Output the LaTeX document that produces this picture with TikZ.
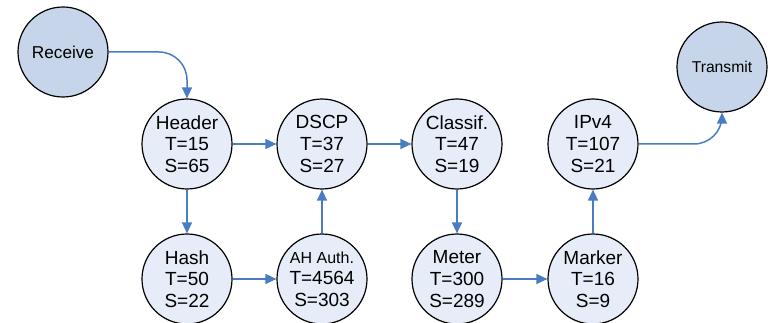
\documentclass[tikz,border=0pt]{standalone}
\usepackage{fontspec}
\setmainfont{Liberation Sans}
\usetikzlibrary{arrows.meta}
\definecolor{endfill}{HTML}{C6D5EA}
\definecolor{stagefill}{HTML}{E6EDF8}
\definecolor{flow}{HTML}{4A7CC4}
\begin{document}
\begin{tikzpicture}[x=1pt,y=-1pt,
  stage/.style={circle, draw=black, line width=1.2pt, fill=stagefill,
    minimum size=90pt, inner sep=0pt, align=center,
    font=\fontsize{19}{21.7}\selectfont},
  endpt/.style={stage, fill=endfill, font=\fontsize{17.2}{20}\selectfont},
  flowarrow/.style={draw=flow, line width=1.5pt,
    -{Triangle[length=11pt,width=10pt]}}]
\useasboundingbox (0,0) rectangle (768,323);

% terminals
\node[endpt] (rec) at (63,52) {Receive};
\node[endpt, font=\fontsize{15.7}{18}\selectfont] (trans) at (722,67) {Transmit};

% processing stages, top row
\node[stage] (hdr) at (187,144) {Header\\T=15\\S=65};
\node[stage] (dscp) at (322,144) {DSCP\\T=37\\S=27};
\node[stage] (cls) at (457,144) {Classif.\\T=47\\S=19};
\node[stage] (ipv4) at (593,144) {IPv4\\T=107\\S=21};

% processing stages, bottom row
\node[stage] (hash) at (187,279) {Hash\\T=50\\S=22};
\node[stage] (ah) at (322,279) {{\fontsize{16}{19}\selectfont AH Auth.}\\T=4564\\S=303};
\node[stage] (met) at (457,279) {Meter\\T=300\\S=289};
\node[stage] (mrk) at (593,279) {Marker\\T=16\\S=9};

% packet flow
\draw[flowarrow, rounded corners=28pt] (rec.east) -| (hdr.north);
\draw[flowarrow] (hdr.east) -- (dscp.west);
\draw[flowarrow] (hdr.south) -- (hash.north);
\draw[flowarrow] (hash.east) -- (ah.west);
\draw[flowarrow] (ah.north) -- (dscp.south);
\draw[flowarrow] (dscp.east) -- (cls.west);
\draw[flowarrow] (cls.south) -- (met.north);
\draw[flowarrow] (met.east) -- (mrk.west);
\draw[flowarrow] (mrk.north) -- (ipv4.south);
\draw[flowarrow, rounded corners=28pt] (ipv4.east) -| (trans.south);
\end{tikzpicture}
\end{document}
